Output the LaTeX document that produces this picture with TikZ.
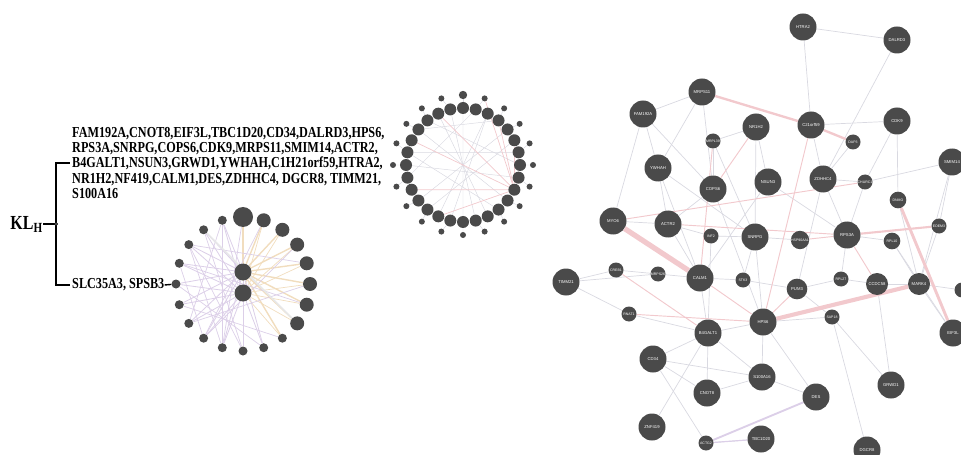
\documentclass[tikz,border=0pt]{standalone}
\usepackage{fontspec}
\setmainfont{Liberation Serif}
\setsansfont{Liberation Sans}
\newfontfamily\narrowserif[FakeStretch=0.8]{Liberation Serif}
\usetikzlibrary{positioning,backgrounds}
\definecolor{genegray}{HTML}{4A4A4A}
\definecolor{linkgray}{HTML}{D9D9E1}
\definecolor{linkpink}{HTML}{F2C9CD}
\definecolor{linklilac}{HTML}{DCCFE8}
\definecolor{linksand}{HTML}{F1DDBE}

\begin{document}
\begin{tikzpicture}[x=0.03cm, y=-0.03cm,
	gene/.style={circle, fill=genegray, text=white, inner sep=0pt, minimum size=0.81cm, font=\sffamily\fontsize{3.6}{4}\selectfont},
	minor/.style={gene, minimum size=0.45cm, font=\sffamily\fontsize{3}{3.5}\selectfont},
	bead/.style={circle, fill=genegray, inner sep=0pt, minimum size=#1},
	link/.style={draw=linkgray, line width=0.6pt},
	plink/.style={draw=linkpink, line width=#1}, plink/.default=0.8pt,
	genelist/.style={align=left, inner sep=0pt, font=\narrowserif\bfseries\fontsize{13}{13.2}\selectfont},
	fork/.style={line width=2pt}]
	\useasboundingbox (0,0) rectangle (961,455);

	% grouping on the left
	\node (kl) [anchor=east, inner sep=0pt, font=\narrowserif\bfseries\fontsize{17}{17}\selectfont] at (43,224) {KL\textsubscript{H}};
	\coordinate (split) at (56,224);
	\node (many) [genelist, anchor=west] at (72,163) {FAM192A,CNOT8,EIF3L,TBC1D20,CD34,DALRD3,HPS6,\\RPS3A,SNRPG,COPS6,CDK9,MRPS11,SMIM14,ACTR2,\\B4GALT1,NSUN3,GRWD1,YWHAH,C1H21orf59,HTRA2,\\NR1H2,NF419,CALM1,DES,ZDHHC4, DGCR8, TIMM21,\\S100A16};
	\node (two) [genelist, anchor=west] at (72,285) {SLC35A3, SPSB3};
	\draw[fork] (kl.east) -- (split);
	\draw[fork] ([xshift=-2pt]many.west) -| (split) |- ([xshift=-2pt]two.west);
	\draw[line width=0.8pt, fill=white] (split) circle (1.3pt);

	% small network of the two genes
	\node (spsb3) [bead=0.51cm] at (243,272) {};
	\node (slc35a3) [bead=0.51cm] at (243,293) {};
	\node (n2r0) [bead=0.6cm] at (243,217) {};
	\foreach \i in {1,...,7}
		\node (n2r\i) [bead=0.42cm] at ({243+67*cos(90-18*\i)},{284-67*sin(90-18*\i)}) {};
	\foreach \i in {8,...,19}
		\node (n2r\i) [bead=0.27cm] at ({243+67*cos(90-18*\i)},{284-67*sin(90-18*\i)}) {};
	\draw[fork, line width=1.2pt] (two.east) -- (n2r15);

	% circular network of the larger group
	\foreach \k in {0,...,27}
		\node (n1i\k) [bead=0.36cm] at ({463+57*cos(90-12.857*\k)},{165-57*sin(90-12.857*\k)}) {};
	\node (n1o0) [bead=0.25cm] at (463,95) {};
	\foreach \i in {1,...,19}
		\node (n1o\i) [bead=0.18cm] at ({463+70*cos(90-18*\i)},{165-70*sin(90-18*\i)}) {};

	% large network
	\node (htra2) [gene] at (803,27) {HTRA2};
	\node (dalrd3) [gene] at (897,40) {DALRD3};
	\node (mrps11) [gene] at (702,92) {MRPS11};
	\node (fam) [gene] at (643,114) {FAM192A};
	\node (nr1h2) [gene] at (756,127) {NR1H2};
	\node (c21) [gene] at (811,125) {C21orf59};
	\node (cdk9) [gene] at (897,121) {CDK9};
	\node (mrpl39) [minor] at (713,141) {MRPL39};
	\node (dap3) [minor] at (853,142) {DAP3};
	\node (smim14) [gene] at (952,162) {SMIM14};
	\node (ywhah) [gene] at (658,168) {YWHAH};
	\node (cops6) [gene] at (713,189) {COPS6};
	\node (nsun3) [gene] at (768,182) {NSUN3};
	\node (zdhhc4) [gene] at (823,179) {ZDHHC4};
	\node (churc1) [minor] at (865,182) {CHURC1};
	\node (dnmo) [minor, minimum size=0.5cm] at (898,200) {DNMO};
	\node (myo6) [gene] at (613,221) {MYO6};
	\node (actr2) [gene] at (668,224) {ACTR2};
	\node (edem3) [minor] at (939,226) {EDEM3};
	\node (inf2) [minor] at (711,236) {INF2};
	\node (snrpg) [gene] at (755,237) {SNRPG};
	\node (hsp90) [minor, minimum size=0.55cm] at (800,240) {HSP90AA1};
	\node (rps3a) [gene] at (847,235) {RPS3A};
	\node (rpl10) [minor, minimum size=0.5cm] at (892,241) {RPL10};
	\node (timm21) [gene] at (566,282) {TIMM21};
	\node (creb1) [minor] at (616,270) {CREB1};
	\node (mrps26) [minor] at (658,274) {MRPS26};
	\node (calm1) [gene] at (700,278) {CALM1};
	\node (stk3) [minor] at (743,280) {STK3};
	\node (rpl27) [minor] at (841,279) {RPL27};
	\node (pum3) [gene, minimum size=0.62cm] at (797,289) {PUM3};
	\node (ccdc58) [gene, minimum size=0.66cm] at (877,284) {CCDC58};
	\node (mark4) [gene, minimum size=0.66cm] at (919,284) {MARK4};
	\node (xr) [minor] at (962,290) {};
	\node (rnat1) [minor] at (629,314) {RNAT1};
	\node (sap18) [minor] at (832,317) {SAP18};
	\node (hps6) [gene] at (763,322) {HPS6};
	\node (b4galt1) [gene] at (708,333) {B4GALT1};
	\node (eif3l) [gene] at (953,333) {EIF3L};
	\node (cd34) [gene] at (653,359) {CD34};
	\node (s100a16) [gene] at (762,377) {S100A16};
	\node (grwd1) [gene] at (891,385) {GRWD1};
	\node (cnot8) [gene] at (707,393) {CNOT8};
	\node (des) [gene] at (816,397) {DES};
	\node (znf419) [gene] at (652,427) {ZNF419};
	\node (tbc1d20) [gene] at (761,439) {TBC1D20};
	\node (actg2) [minor] at (706,443) {ACTG2};
	\node (dgcr8) [gene] at (867,450) {DGCR8};

	\begin{scope}[on background layer]
		% small network links
		\foreach \i in {0,...,8} {
			\draw[draw=linksand, line width=1.2pt] (n2r\i) -- (spsb3);
			\draw[draw=linksand, line width=0.6pt] (n2r\i) -- (slc35a3);
		}
		\foreach \i in {9,...,19} {
			\draw[draw=linklilac, line width=0.7pt] (n2r\i) -- (spsb3);
			\draw[draw=linklilac, line width=0.7pt] (n2r\i) -- (slc35a3);
		}
		\foreach \a/\b in {17/10, 16/12, 19/11, 15/9, 14/8, 17/4, 16/6, 19/13, 18/10, 13/5, 12/3, 0/11, 1/12, 17/11}
			\draw[draw=linklilac, line width=0.6pt] (n2r\a) -- (n2r\b);
		\draw[draw=linkgray!80!black!30, line width=1.3pt] (n2r18) -- (n2r7);

		% circular network links
		\foreach \i in {0,...,19} {
			\pgfmathtruncatemacro\near{mod(round(1.4*\i),28)}
			\draw[link, line width=0.4pt] (n1o\i) -- (n1i\near);
		}
		\foreach \a/\b in {2/15, 4/18, 6/22, 0/14, 24/10, 26/12, 1/20, 3/24, 21/8, 17/5, 13/27, 11/22, 7/25, 16/2}
			\draw[link, line width=0.4pt] (n1i\a) -- (n1i\b);
		\foreach \b in {19, 5, 3, 16, 23, 26}
			\draw[plink=0.6pt] (n1i9) -- (n1i\b);
		\draw[plink=0.6pt] (n1i9) -- (n1o1);

		% large network links
		\foreach \a/\b in {htra2/dalrd3, htra2/c21, dalrd3/zdhhc4, cdk9/c21, cdk9/churc1, cdk9/dnmo,
			smim14/churc1, smim14/edem3, fam/ywhah, fam/myo6, fam/cops6, mrps11/ywhah, mrps11/cops6,
			mrpl39/nr1h2, mrpl39/cops6, mrpl39/snrpg, ywhah/actr2, ywhah/snrpg, cops6/actr2, cops6/hps6,
			nr1h2/nsun3, nr1h2/snrpg, c21/zdhhc4, nsun3/calm1, nsun3/rps3a, zdhhc4/rps3a, zdhhc4/churc1,
			zdhhc4/pum3, dnmo/mark4, edem3/mark4, rpl10/rps3a, rpl10/mark4, rpl10/eif3l, rps3a/rpl27,
			hsp90/snrpg, snrpg/inf2, snrpg/stk3, snrpg/hps6, actr2/inf2, actr2/calm1, timm21/creb1,
			timm21/mrps26, timm21/rnat1, creb1/mrps26, mrps26/calm1, calm1/stk3, calm1/b4galt1,
			rnat1/b4galt1, b4galt1/hps6, b4galt1/cd34, b4galt1/cnot8, b4galt1/s100a16, hps6/sap18,
			hps6/s100a16, hps6/des, pum3/rpl27, pum3/sap18, rpl27/ccdc58, ccdc58/mark4, ccdc58/grwd1,
			mark4/eif3l, mark4/xr, sap18/grwd1, sap18/dgcr8, cd34/cnot8, cd34/s100a16, cd34/actg2,
			znf419/b4galt1, actg2/tbc1d20, s100a16/des, cnot8/s100a16, inf2/b4galt1, stk3/pum3,
			myo6/actr2, ywhah/calm1, mrps11/fam, dap3/zdhhc4, churc1/rps3a, smim14/mark4}
			\draw[link] (\a) -- (\b);
		\foreach \a/\b in {mrpl39/calm1, c21/hps6, churc1/myo6, rps3a/hsp90, rps3a/ccdc58, actr2/rps3a,
			creb1/b4galt1, rnat1/hps6, hps6/pum3, calm1/hps6, nr1h2/cops6}
			\draw[plink] (\a) -- (\b);
		\draw[plink=2pt] (mrps11) -- (c21) -- (dap3);
		\draw[plink=1.8pt] (rps3a) -- (edem3);
		\draw[plink=2.5pt] (dnmo) -- (eif3l);
		\draw[plink=4.5pt] (myo6) -- (calm1);
		\draw[plink=3.5pt] (hps6) -- (mark4);
		\draw[draw=linklilac, line width=1.6pt] (actg2) -- (des);
		\draw[draw=linklilac, line width=1pt] (actg2) -- (tbc1d20);
	\end{scope}
\end{tikzpicture}
\end{document}
